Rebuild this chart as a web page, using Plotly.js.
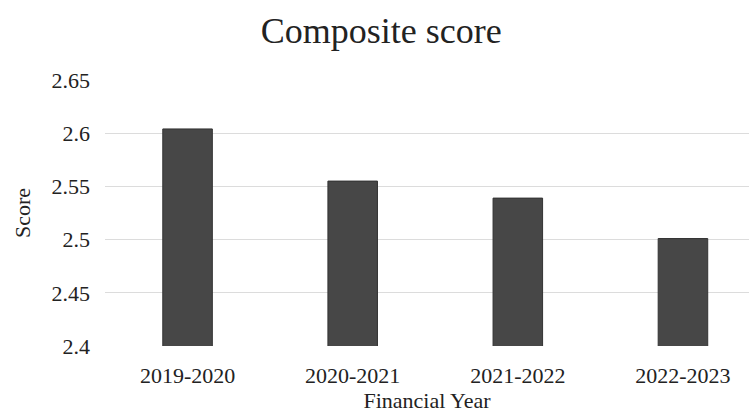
<!DOCTYPE html>
<html>
<head>
<meta charset="utf-8">
<script src="https://cdn.plot.ly/plotly-3.0.1.min.js"></script>
<style>html,body{margin:0;padding:0;background:#fff;}#chart{width:749px;height:416px;}</style>
</head>
<body>
<div id="chart"></div>
<script>
const categories = ["2019-2020", "2020-2021", "2021-2022", "2022-2023"];
const scores = [2.604, 2.555, 2.539, 2.501];
const yTicks = [2.4, 2.45, 2.5, 2.55, 2.6, 2.65];
const yTickLabels = ["2.4", "2.45", "2.5", "2.55", "2.6", "2.65"];

const font = {family: "Liberation Serif", color: "#222"};

Plotly.newPlot("chart", [{
  type: "bar",
  x: categories,
  y: scores,
  width: 0.3,
  marker: {color: "#474747", line: {color: "#333", width: 1}},
  hoverinfo: "x+y"
}], {
  width: 749, height: 416,
  paper_bgcolor: "#fff", plot_bgcolor: "#fff",
  margin: {l: 105, r: 0, t: 80, b: 70},
  showlegend: false,
  title: {text: "Composite score", font: Object.assign({}, font, {size: 36}), x: 0.509, xref: "container", xanchor: "center", y: 0.928, yref: "container", yanchor: "middle"},
  xaxis: {
    type: "category", range: [-0.5, 3.4],
    tickfont: Object.assign({}, font, {size: 22}),
    showgrid: false, zeroline: false, showline: false, ticks: "",
    ticklabelstandoff: 14,
    title: {text: "Financial Year", font: Object.assign({}, font, {size: 22}), standoff: 4}
  },
  yaxis: {
    range: [2.4, 2.65], tickvals: yTicks, ticktext: yTickLabels,
    tickfont: Object.assign({}, font, {size: 22}),
    showgrid: true, gridcolor: "#dcdcdc", gridwidth: 1, zeroline: false, showline: false,
    ticks: "", ticklabelstandoff: 14,
    title: {text: "Score", font: Object.assign({}, font, {size: 22}), standoff: 14}
  }
}, {displayModeBar: false, staticPlot: true});
</script>
</body>
</html>
